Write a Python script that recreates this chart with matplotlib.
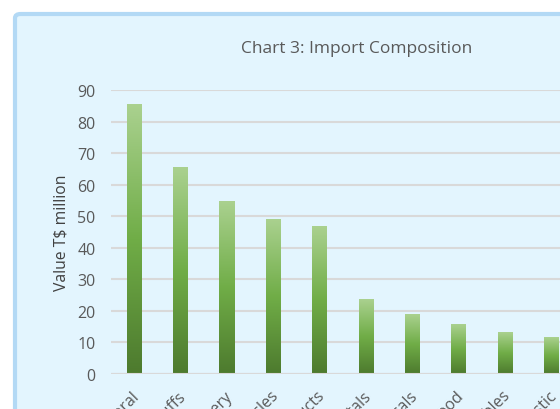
import matplotlib
matplotlib.use("Agg")
import matplotlib.pyplot as plt
import numpy as np
from matplotlib.colors import LinearSegmentedColormap
from matplotlib.patches import FancyBboxPatch
import matplotlib.transforms as mtransforms

categories = ["Mineral", "Foodstuffs", "Machinery", "Vehicles", "Wood products",
              "Metals", "Chemicals", "Wood", "Vegetables", "Plastic"]
values = [85.3, 65.3, 54.8, 48.9, 46.6, 23.7, 19.0, 15.8, 13.3, 11.7]
yticks = [0, 10, 20, 30, 40, 50, 60, 70, 80, 90]

W, H = 560, 410
fig = plt.figure(figsize=(W / 100, H / 100), dpi=100)
fig.patch.set_facecolor("white")

# chart area frame
frame = FancyBboxPatch((15 / W, -0.2), 1.2, (H - 15) / H + 0.2,
                       boxstyle="round,pad=0,rounding_size=0.01",
                       transform=fig.transFigure, facecolor="#E3F5FE",
                       edgecolor="#B3D9F5", linewidth=3, zorder=-10)
fig.patches.append(frame)

slot = 46.4
left = 111
n_slots = 12
ax = fig.add_axes([left / W, 35 / H, slot * n_slots / W, (375 - 91) / H])
ax.set_facecolor("none")
x = np.arange(len(categories))

cmap = LinearSegmentedColormap.from_list("g", ["#4D7A2E", "#70AD47", "#AAD18F"])
grad = np.linspace(0, 1, 256).reshape(-1, 1)
bw = 15 / slot
bars = ax.bar(x, values, width=bw, color="none", zorder=3)
for b in bars:
    x0 = b.get_x()
    h = b.get_height()
    ax.imshow(grad, cmap=cmap, aspect="auto", origin="lower",
              extent=[x0, x0 + bw, 0, h], zorder=3, interpolation="bilinear")
ax.set_xlim(-0.5, n_slots - 0.5)
ax.set_ylim(0, 90)

ax.set_yticks(yticks)
ax.set_yticklabels([str(t) for t in yticks], fontsize=11.5, color="#595959",
                   family="Open Sans")
ax.yaxis.grid(True, color="#D9D9D9", linewidth=1.5, zorder=0)
ax.set_axisbelow(True)
ax.tick_params(axis="y", length=0, pad=11)
ax.tick_params(axis="x", length=0, pad=6)
for s in ax.spines.values():
    s.set_visible(False)
ax.axhline(0, color="#D9D9D9", linewidth=1.5, zorder=4)
ax.set_xticks(x)
ax.set_xticklabels(categories, rotation=45, ha="right", rotation_mode="anchor",
                   fontsize=11.5, color="#595959", family="Open Sans")
offset = mtransforms.ScaledTranslation(-3 / 100, -5 / 100, fig.dpi_scale_trans)
for lbl in ax.get_xticklabels():
    lbl.set_transform(lbl.get_transform() + offset)

ax.set_ylabel("Value T$ million", fontsize=11.3, color="#404040", family="Open Sans",
              labelpad=6)
fig.text(357 / W, 1 - 49 / H, "Chart 3: Import Composition", fontsize=12.5,
         color="#595959", family="Open Sans", ha="center", va="center")

fig.savefig("out.png", dpi=100)
